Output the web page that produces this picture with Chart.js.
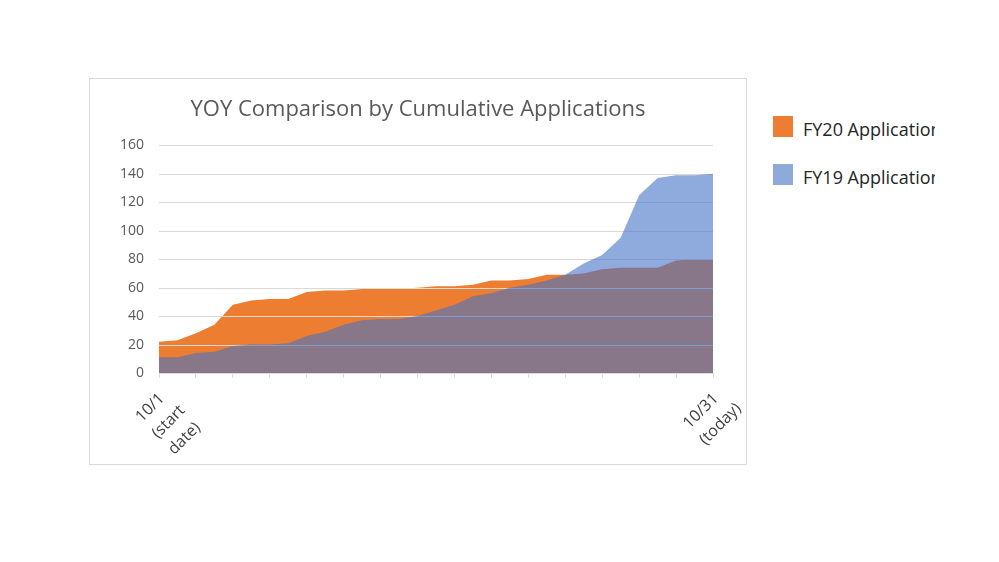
<!DOCTYPE html>
<html lang="en">
<head>
  <meta charset="UTF-8" />
  <title>YOY Comparison by Cumulative Applications</title>
  <script src="https://cdn.jsdelivr.net/npm/chart.js"></script>
  <style>
    body { margin: 0; width: 999px; height: 562px; background: #fff; font-family: 'Open Sans', sans-serif; position: relative; overflow: hidden; }
    .box { position: absolute; left: 89px; top: 78px; width: 658px; height: 387px; border: 1px solid #d9d9d9; box-sizing: border-box; }
    .box canvas { position: absolute; left: 0; top: 0; }
    .legend { position: absolute; left: 773px; width: 162px; height: 28px; overflow: hidden; white-space: nowrap; font-size: 18px; color: #262626; }
    .legend span.sw { position: absolute; left: 0; top: 0; width: 20px; height: 21px; }
    .legend span.txt { position: absolute; left: 30px; top: 1px; }
  </style>
</head>
<body>
  <div class="box"><canvas id="chart" width="656" height="385"></canvas></div>
  <div class="legend" style="top:116px"><span class="sw" style="background:#ED7D31"></span><span class="txt">FY20 Applications</span></div>
  <div class="legend" style="top:164px"><span class="sw" style="background:#8EAADB"></span><span class="txt">FY19 Applications</span></div>

  <script>
    const days = ['10/1', '10/2', '10/3', '10/4', '10/5', '10/6', '10/7', '10/8', '10/9', '10/10',
      '10/11', '10/12', '10/13', '10/14', '10/15', '10/16', '10/17', '10/18', '10/19', '10/20',
      '10/21', '10/22', '10/23', '10/24', '10/25', '10/26', '10/27', '10/28', '10/29', '10/30', '10/31'];
    const fy20 = [22, 23, 28, 34, 48, 51, 52, 52, 57, 58, 58, 59, 59, 59, 60, 61, 61, 62, 65, 65,
      66, 69, 69, 70, 73, 74, 74, 74, 79, 80, 80];
    const fy19 = [11, 11, 14, 15, 19, 20, 20, 21, 26, 29, 34, 37, 38, 38, 40, 44, 48, 54, 56, 60,
      62, 65, 69, 77, 83, 95, 125, 137, 139, 139, 140];
    const firstLabel = ['10/1', '(start', 'date)'];
    const lastLabel = ['10/31', '(today)'];

    // gridlines sit on top of the orange area but under the see-through blue one
    const gridBetween = {
      id: 'gridBetween',
      afterDatasetDraw(chart, args) {
        if (args.index !== 0) return;
        const ctx = chart.ctx, y = chart.scales.y, area = chart.chartArea;
        ctx.save();
        ctx.strokeStyle = '#d9d9d9';
        ctx.lineWidth = 1;
        y.ticks.forEach(t => {
          const py = Math.round(y.getPixelForValue(t.value)) + 0.5;
          ctx.beginPath();
          ctx.moveTo(area.left, py);
          ctx.lineTo(area.right, py);
          ctx.stroke();
        });
        ctx.restore();
      }
    };

    // Excel-style rotated labels: lines start-aligned, first line ends at the tick
    const endLabels = {
      id: 'endLabels',
      afterDraw(chart) {
        const ctx = chart.ctx, x = chart.scales.x, base = chart.chartArea.bottom;
        ctx.save();
        ctx.font = '16px "Open Sans"';
        ctx.fillStyle = '#404040';
        ctx.textBaseline = 'middle';
        ctx.textAlign = 'left';
        [[0, firstLabel], [days.length - 1, lastLabel]].forEach(([i, lines]) => {
          const px = x.getPixelForValue(i);
          const w1 = ctx.measureText(lines[0]).width;
          ctx.save();
          ctx.translate(px + 3, base + 23);
          ctx.rotate(-Math.PI / 4);
          lines.forEach((ln, k) => ctx.fillText(ln, -w1, k * 23));
          ctx.restore();
        });
        ctx.restore();
      }
    };

    new Chart(document.getElementById('chart'), {
      type: 'line',
      data: {
        labels: days,
        datasets: [
          { label: 'FY20 Applications', data: fy20, order: 2, fill: 'origin',
            backgroundColor: '#ED7D31', borderWidth: 0, pointRadius: 0, tension: 0 },
          { label: 'FY19 Applications', data: fy19, order: 1, fill: 'origin',
            backgroundColor: 'rgba(68,114,196,0.6)', borderWidth: 0, pointRadius: 0, tension: 0 }
        ]
      },
      options: {
        responsive: false,
        animation: false,
        layout: { padding: 0 },
        plugins: {
          legend: { display: false },
          tooltip: { enabled: false },
          title: {
            display: true,
            text: 'YOY Comparison by Cumulative Applications',
            color: '#595959',
            font: { family: 'Open Sans', size: 22, weight: 'normal' },
            padding: { top: 18, bottom: 22 }
          }
        },
        scales: {
          x: {
            afterFit(s) { s.height = 91; },
            border: { display: true, color: '#d9d9d9' },
            grid: {
              drawOnChartArea: false,
              tickLength: 5,
              color: c => (c.index % 2 === 0 ? '#d9d9d9' : 'rgba(0,0,0,0)')
            },
            ticks: {
              autoSkip: false,
              maxRotation: 0,
              callback: () => ''
            }
          },
          y: {
            min: 0,
            max: 160,
            afterFit(s) { s.width = 69; },
            border: { display: false },
            grid: { display: false },
            ticks: {
              stepSize: 20,
              padding: 7,
              color: '#595959',
              font: { family: 'Open Sans', size: 14 }
            }
          },
          // empty right margin so the title stays centred on the whole box
          pad: {
            type: 'linear',
            position: 'right',
            afterFit(s) { s.width = 33; },
            border: { display: false },
            grid: { display: false },
            ticks: { display: false }
          }
        }
      },
      plugins: [gridBetween, endLabels]
    });
  </script>
</body>
</html>
